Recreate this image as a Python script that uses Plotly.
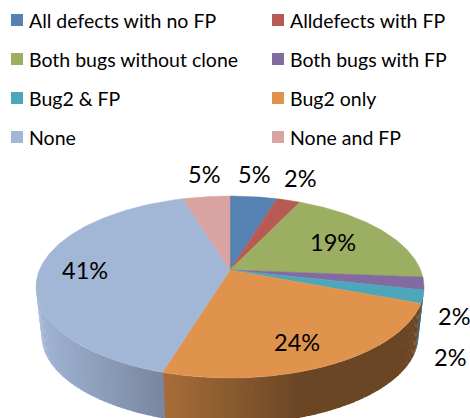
import math
import plotly.graph_objects as go

categories = ["All defects with no FP", "Alldefects with FP", "Both bugs without clone",
              "Both bugs with FP", "Bug2 & FP", "Bug2 only", "None", "None and FP"]
values = [4.7, 2.35, 19.2, 2.25, 2.3, 23.9, 40.6, 4.7]
colors = ["#5581b3", "#b85a54", "#9bae62", "#836ba0", "#4ca7bb", "#e0934d", "#a2b6d6", "#d9a3a2"]
label_text = ["5%", "2%", "19%", "2%", "2%", "24%", "41%", "5%"]

# layout constants (pixel space of the 470x418 page)
W, H = 470, 418
K = 0.187
TOP = dict(cx=230, cy=270, a=190.6, b=87.8)
BOT = dict(cx=230, cy=319.5, a=185, b=85)
label_pos = [(254, 174), (300, 178), (333, 242), (454, 316), (450, 357), (297, 342), (85, 270), (204, 174)]
legend_cols = [11, 272]
legend_rows = [20, 59, 98, 137]
FONT = "Lato"
LEG_SIZE = 19.5
LAB_SIZE = 23.5


def project(theta, e):
    u, v = math.sin(theta), math.cos(theta)
    d = 1 + K * v
    return e["cx"] + e["a"] * u / d, e["cy"] - e["b"] * v / d


def hex_shade(c, f):
    r, g, b = int(c[1:3], 16), int(c[3:5], 16), int(c[5:7], 16)
    return "rgb(%d,%d,%d)" % (r * f, g * f, b * f)


total = sum(values)
edges = [0.0]
for val in values:
    edges.append(edges[-1] + val / total * 2 * math.pi)

fig = go.Figure()

# side wall
lim_lo, lim_hi = math.acos(-K), 2 * math.pi - math.acos(-K)
for i, c in enumerate(colors):
    lo, hi = max(edges[i], lim_lo), min(edges[i + 1], lim_hi)
    if hi <= lo:
        continue
    n = max(1, int((hi - lo) / math.radians(1.5)))
    for j in range(n):
        t0 = lo + (hi - lo) * j / n
        t1 = lo + (hi - lo) * (j + 1) / n
        t0p = t0 - 0.004
        t1p = t1 + 0.004
        a0, a1 = project(t0p, TOP), project(t1p, TOP)
        b0, b1 = project(t0p, BOT), project(t1p, BOT)
        xm = (a0[0] + a1[0]) / 2
        f = min(0.98, max(0.48, 0.48 + (300 - xm) / 258 * 0.5))
        fig.add_trace(go.Scatter(
            x=[a0[0], a1[0], b1[0], b0[0], a0[0]], y=[a0[1], a1[1], b1[1], b0[1], a0[1]],
            mode="lines", fill="toself", fillcolor=hex_shade(c, f),
            line=dict(width=0), hoverinfo="skip", showlegend=False))

# top face
for i, c in enumerate(colors):
    n = max(3, int((edges[i + 1] - edges[i]) / math.radians(1)))
    pts = [project(edges[i] + (edges[i + 1] - edges[i]) * j / n, TOP) for j in range(n + 1)]
    xs = [TOP["cx"]] + [p[0] for p in pts] + [TOP["cx"]]
    ys = [TOP["cy"]] + [p[1] for p in pts] + [TOP["cy"]]
    fig.add_trace(go.Scatter(x=xs, y=ys, mode="lines", fill="toself", fillcolor=c,
                             line=dict(width=0.5, color=c), name=categories[i],
                             hoverinfo="name", showlegend=False))

annotations = []
shapes = []
for (x, y), t in zip(label_pos, label_text):
    annotations.append(dict(x=x, y=y, text=t, showarrow=False, xref="x", yref="y",
                            font=dict(family=FONT, size=LAB_SIZE, color="#000000")))
for i, name in enumerate(categories):
    lx = legend_cols[i % 2]
    ly = legend_rows[i // 2]
    shapes.append(dict(type="rect", xref="x", yref="y", x0=lx, x1=lx + 12, y0=ly - 6, y1=ly + 6,
                       fillcolor=colors[i], line=dict(width=0)))
    annotations.append(dict(x=lx + 16, y=ly, text=name, showarrow=False, xanchor="left", xref="x", yref="y",
                            font=dict(family=FONT, size=LEG_SIZE, color="#000000")))

fig.update_layout(
    width=W, height=H, margin=dict(l=0, r=0, t=0, b=0), autosize=False,
    paper_bgcolor="white", plot_bgcolor="white", showlegend=False,
    xaxis=dict(range=[0, W], visible=False, fixedrange=True),
    yaxis=dict(range=[H, 0], visible=False, fixedrange=True),
    annotations=annotations, shapes=shapes,
)
fig.write_html("out.html", config={"displayModeBar": False},
               post_script="document.body.style.margin='0';document.body.style.overflow='hidden';")
